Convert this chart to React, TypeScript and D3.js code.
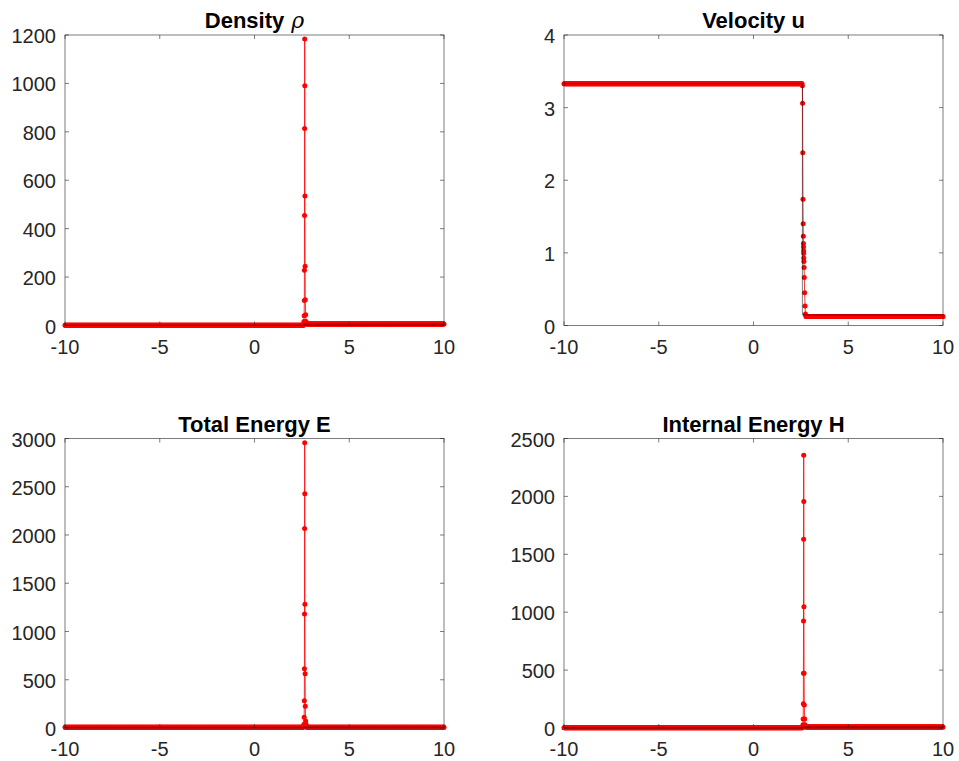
import React from 'react';
import * as d3 from 'd3';

// ---- shared axis settings ----
const xDomain: [number, number] = [-10, 10];
const xTicks = [-10, -5, 0, 5, 10];

// ---- mesh cells around the shock (spacing ~0.01) ----
const shockCellsX = [2.58, 2.59, 2.6, 2.61, 2.62, 2.63, 2.635, 2.64, 2.645, 2.65, 2.655, 2.66, 2.67, 2.68, 2.7, 2.72, 2.74, 2.76];
const densityShock = [1.5, 3, 8, 17, 40, 103, 228, 454, 814, 1183, 990, 535, 245, 106, 44, 17, 8, 6];
const velocityShock = [3.3, 3.06, 2.38, 1.74, 1.4, 1.23, 1.13, 1.08, 1.03, 0.99, 0.93, 0.88, 0.8, 0.66, 0.45, 0.27, 0.16, 0.13];
const totalEnergyShock = [10, 18, 25, 38, 111, 283, 615, 1182, 2067, 2955, 2427, 1282, 563, 225, 73, 38, 15, 9];
const internalEnergyShock = [2, 4, 10, 29, 78, 210, 472, 923, 1631, 2356, 1956, 1047, 472, 199, 78, 29, 12, 9];

// ---- constant states on either side of the shock: [left, right] ----
const leftStateSpan = [-10, 2.57];
const rightStateSpan = [2.78, 10];
const cellWidth = 0.02;
const densityStates = [1, 6];
const velocityStates = [3.33, 0.125];
const totalEnergyStates = [7, 9];
const internalEnergyStates = [1.5, 9];

// ---- reference (exact) profile: jump at the shock position ----
const shockPosition = 2.58;
const densityExact = [1, 6];
const velocityExact = [3.33, 0.145];
const totalEnergyExact = [7, 9];
const internalEnergyExact = [1.5, 9];

// ---- tick values ----
const densityTicks = [0, 200, 400, 600, 800, 1000, 1200];
const velocityTicks = [0, 1, 2, 3, 4];
const totalEnergyTicks = [0, 500, 1000, 1500, 2000, 2500, 3000];
const internalEnergyTicks = [0, 500, 1000, 1500, 2000, 2500];

const FONT = '"Liberation Sans", Arial, Helvetica, sans-serif';
const AXIS_COLOR = '#262626';

type Pt = [number, number];

function buildSeries(states: number[], shockVals: number[]): Pt[] {
  const left = d3.range(leftStateSpan[0], leftStateSpan[1] + 1e-9, cellWidth).map((x) => [x, states[0]] as Pt);
  const mid = shockCellsX.map((x, i) => [x, shockVals[i]] as Pt);
  const right = d3.range(rightStateSpan[0], rightStateSpan[1] + 1e-9, cellWidth).map((x) => [x, states[1]] as Pt);
  return [...left, ...mid, ...right];
}

function buildExact(vals: number[]): Pt[] {
  return [
    [xDomain[0], vals[0]],
    [shockPosition, vals[0]],
    [shockPosition, vals[1]],
    [xDomain[1], vals[1]],
  ];
}

interface PanelProps {
  title: string;
  symbol?: string;
  box: { left: number; right: number; top: number; bottom: number };
  yTicks: number[];
  series: Pt[];
  exact: Pt[];
}

function Panel({ title, symbol, box, yTicks, series, exact }: PanelProps) {
  const x = d3.scaleLinear().domain(xDomain).range([box.left, box.right]);
  const y = d3
    .scaleLinear()
    .domain([yTicks[0], yTicks[yTicks.length - 1]])
    .range([box.bottom, box.top]);
  const line = d3
    .line<Pt>()
    .x((d) => x(d[0]))
    .y((d) => y(d[1]));
  const tickLen = 4;
  const cx = (box.left + box.right) / 2;
  return (
    <g>
      <path d={line(series) || ''} fill="none" stroke="#ff0000" strokeOpacity={0.8} strokeWidth={1} />
      {series.map((d, i) => (
        <circle key={i} cx={x(d[0])} cy={y(d[1])} r={2.5} fill="#ff0000" />
      ))}
      <path d={line(exact) || ''} fill="none" stroke="#000" strokeOpacity={0.5} strokeWidth={1} />
      <rect
        x={box.left}
        y={box.top}
        width={box.right - box.left}
        height={box.bottom - box.top}
        fill="none"
        stroke={AXIS_COLOR}
        strokeWidth={0.6}
      />
      {xTicks.map((t) => (
        <g key={'x' + t}>
          <line x1={x(t)} x2={x(t)} y1={box.bottom} y2={box.bottom - tickLen} stroke={AXIS_COLOR} strokeWidth={0.6} />
          <line x1={x(t)} x2={x(t)} y1={box.top} y2={box.top + tickLen} stroke={AXIS_COLOR} strokeWidth={0.6} />
          <text x={x(t)} y={box.bottom + 28} textAnchor="middle" fontSize={20} fill={AXIS_COLOR} fontFamily={FONT}>
            {t}
          </text>
        </g>
      ))}
      {yTicks.map((t) => (
        <g key={'y' + t}>
          <line x1={box.left} x2={box.left + tickLen} y1={y(t)} y2={y(t)} stroke={AXIS_COLOR} strokeWidth={0.6} />
          <line x1={box.right} x2={box.right - tickLen} y1={y(t)} y2={y(t)} stroke={AXIS_COLOR} strokeWidth={0.6} />
          <text x={box.left - 9} y={y(t) + 8} textAnchor="end" fontSize={20} fill={AXIS_COLOR} fontFamily={FONT}>
            {t}
          </text>
        </g>
      ))}
      <text x={cx} y={box.top - 7} textAnchor="middle" fontSize={22} fontWeight="bold" fill="#000" fontFamily={FONT}>
        {title}
        {symbol ? (
          <tspan fontFamily='"DejaVu Serif", "Liberation Serif", serif' fontStyle="italic" fontWeight="normal">
            {' ' + symbol}
          </tspan>
        ) : null}
      </text>
    </g>
  );
}

export default function App() {
  const leftCol = { left: 65, right: 444 };
  const rightCol = { left: 564, right: 943 };
  const topRow = { top: 35, bottom: 325.5 };
  const bottomRow = { top: 438.5, bottom: 728 };

  return (
    <svg
      width={959}
      height={761}
      style={{ position: 'absolute', left: 0, top: 0, background: '#fff' }}
    >
      <rect x={0} y={0} width={959} height={761} fill="#fff" />
      <Panel
        title="Density"
        symbol="ρ"
        box={{ ...leftCol, ...topRow }}
        yTicks={densityTicks}
        series={buildSeries(densityStates, densityShock)}
        exact={buildExact(densityExact)}
      />
      <Panel
        title="Velocity u"
        box={{ ...rightCol, ...topRow }}
        yTicks={velocityTicks}
        series={buildSeries(velocityStates, velocityShock)}
        exact={buildExact(velocityExact)}
      />
      <Panel
        title="Total Energy E"
        box={{ ...leftCol, ...bottomRow }}
        yTicks={totalEnergyTicks}
        series={buildSeries(totalEnergyStates, totalEnergyShock)}
        exact={buildExact(totalEnergyExact)}
      />
      <Panel
        title="Internal Energy H"
        box={{ ...rightCol, ...bottomRow }}
        yTicks={internalEnergyTicks}
        series={buildSeries(internalEnergyStates, internalEnergyShock)}
        exact={buildExact(internalEnergyExact)}
      />
    </svg>
  );
}
